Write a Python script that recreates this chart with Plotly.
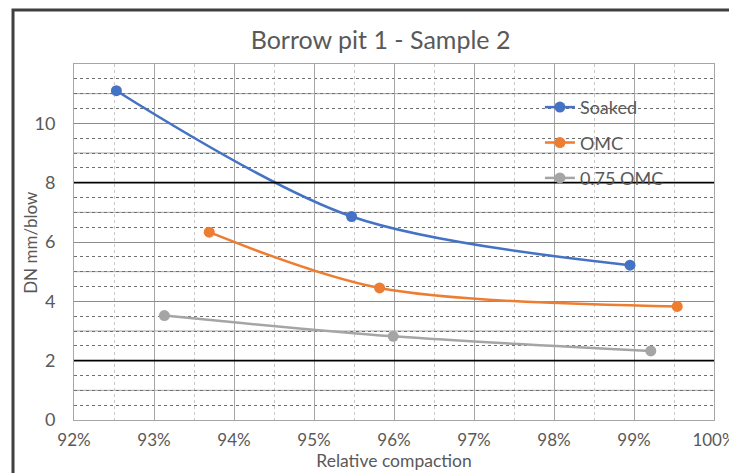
import plotly.graph_objects as go

# ---- data ----
series_names = ["Soaked", "OMC", "0.75 OMC"]
soaked_x = [0.9253, 0.9547, 0.9895]
soaked_y = [11.1, 6.86, 5.22]
omc_x = [0.9369, 0.9582, 0.9954]
omc_y = [6.33, 4.45, 3.83]
omc75_x = [0.9313, 0.9599, 0.9921]
omc75_y = [3.52, 2.82, 2.33]
colors = ["#4472C4", "#ED7D31", "#A5A5A5"]
y_tickvals = [0, 2, 4, 6, 8, 10]

title_text = "Borrow pit 1 - Sample 2"
x_title = "Relative compaction"
y_title = "DN mm/blow"

TXT = "#595959"
FONT = "Lato"

fig = go.Figure()
for name, xs, ys, c in zip(series_names, [soaked_x, omc_x, omc75_x],
                           [soaked_y, omc_y, omc75_y], colors):
    fig.add_trace(go.Scatter(
        x=xs, y=ys, name=name, mode="lines+markers", legendgroup=name,
        line=dict(color=c, width=2.5, shape="spline", smoothing=0.9),
        marker=dict(color=c, size=11),
    ))

# emphasised (black) horizontal gridlines and odd-integer solid lines
black_lines = [2, 8]
solid_lines = [1, 3, 5, 7, 9, 11]
shapes = []
for v in solid_lines:
    shapes.append(dict(type="line", xref="paper", yref="y", x0=0, x1=1, y0=v, y1=v,
                       line=dict(color="#a6a6a6", width=1), layer="below"))
for v in black_lines:
    shapes.append(dict(type="line", xref="paper", yref="y", x0=0, x1=1, y0=v, y1=v,
                       line=dict(color="#000000", width=1.6), layer="above"))
# outer chart frame (cropped scan)
shapes.append(dict(type="rect", xref="paper", yref="paper",
                   x0=-0.0953, x1=1.06, y0=-0.2, y1=1.152,
                   line=dict(color="#404040", width=3)))

fig.update_layout(
    width=737, height=473,
    margin=dict(l=66, r=31, t=56, b=61),
    paper_bgcolor="white", plot_bgcolor="white",
    font=dict(family=FONT, color=TXT, size=16),
    title=dict(text=title_text, x=0.479, xref="paper", xanchor="center",
               y=1.0, yref="container", yanchor="top", pad=dict(t=23),
               font=dict(size=25, color=TXT, family=FONT)),
    showlegend=True,
    legend=dict(x=0.728, y=0.93, xanchor="left", yanchor="top",
                bgcolor="rgba(0,0,0,0)", tracegroupgap=9,
                font=dict(size=18, color=TXT, family=FONT)),
    shapes=shapes,
    annotations=[dict(text=y_title, xref="paper", yref="paper", x=-0.069, y=0.5,
                      xanchor="center", yanchor="middle", textangle=-90,
                      showarrow=False, font=dict(size=17, color=TXT, family=FONT))],
)

fig.update_xaxes(
    range=[0.92, 1.0], dtick=0.01, tick0=0.92, tickformat=".0%",
    showgrid=True, gridcolor="#a6a6a6", gridwidth=1,
    minor=dict(dtick=0.005, showgrid=True, gridcolor="#c8c8c8", griddash="dot"),
    showline=True, mirror=True, linecolor="#a6a6a6", linewidth=1,
    ticks="outside", ticklen=5, tickcolor="rgba(0,0,0,0)",
    tickfont=dict(size=17, color=TXT, family=FONT),
    zeroline=False, automargin=False,
    title=dict(text=x_title, standoff=0, font=dict(size=17.5, color=TXT, family=FONT)),
)
fig.update_yaxes(
    range=[0, 12], tickvals=y_tickvals,
    showgrid=True, gridcolor="#8c8c8c", gridwidth=1,
    minor=dict(dtick=0.5, tick0=0, showgrid=True, gridcolor="#6e6e6e", griddash="dot"),
    showline=True, mirror=True, linecolor="#a6a6a6", linewidth=1,
    ticks="outside", ticklen=14, tickcolor="rgba(0,0,0,0)",
    tickfont=dict(size=18, color=TXT, family=FONT),
    zeroline=False, automargin=False,
)

fig.write_html("out.html")
